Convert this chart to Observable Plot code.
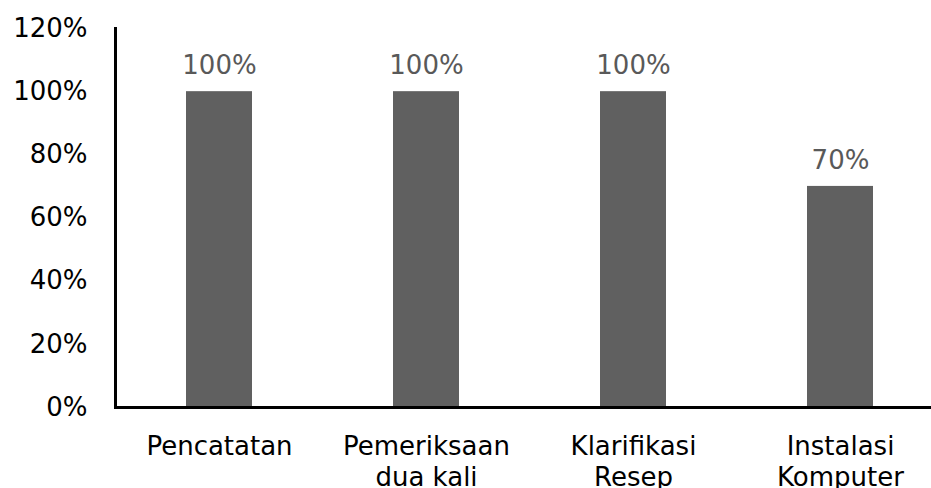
<!DOCTYPE html>
<html>
<head>
<meta charset="utf-8">
<script src="https://cdn.jsdelivr.net/npm/d3@7"></script>
<script src="https://cdn.jsdelivr.net/npm/@observablehq/plot@0.6"></script>
<style>
  html, body { margin: 0; padding: 0; background: #fff; }
</style>
</head>
<body>
<div id="chart"></div>
<script>
const categories = ["Pencatatan", "Pemeriksaan\ndua kali", "Klarifikasi\nResep", "Instalasi\nKomputer"];
const values = [100, 100, 100, 70];
const valueLabels = ["100%", "100%", "100%", "70%"];
const yTicks = [0, 20, 40, 60, 80, 100, 120];

const data = categories.map((c, i) => ({category: c, value: values[i], label: valueLabels[i]}));

const chart = Plot.plot({
  width: 931,
  height: 488,
  marginLeft: 115,
  marginRight: 0,
  marginTop: 28,
  marginBottom: 81,
  style: {fontFamily: "DejaVu Sans, Verdana, sans-serif", fontSize: "26px", background: "#fff", color: "#000"},
  x: {domain: categories, paddingInner: 0.682, paddingOuter: 0.3055, align: 0.551},
  y: {domain: [0, 120]},
  marks: [
    Plot.barY(data, {x: "category", y: "value", fill: "#606060"}),
    Plot.text(data, {x: "category", y: "value", text: "label", dy: -26, fill: "#595959", fontSize: 26}),
    Plot.axisY({ticks: yTicks, tickFormat: d => d + "%", tickSize: 0, tickPadding: 28, label: null, fontSize: 26}),
    Plot.axisX({tickSize: 0, tickPadding: 25, label: null, fontSize: 26, lineHeight: 1.2}),
    Plot.frame({anchor: "left", stroke: "#000", strokeWidth: 3}),
    Plot.ruleY([0], {stroke: "#000", strokeWidth: 3})
  ]
});
document.getElementById("chart").appendChild(chart);
</script>
</body>
</html>
